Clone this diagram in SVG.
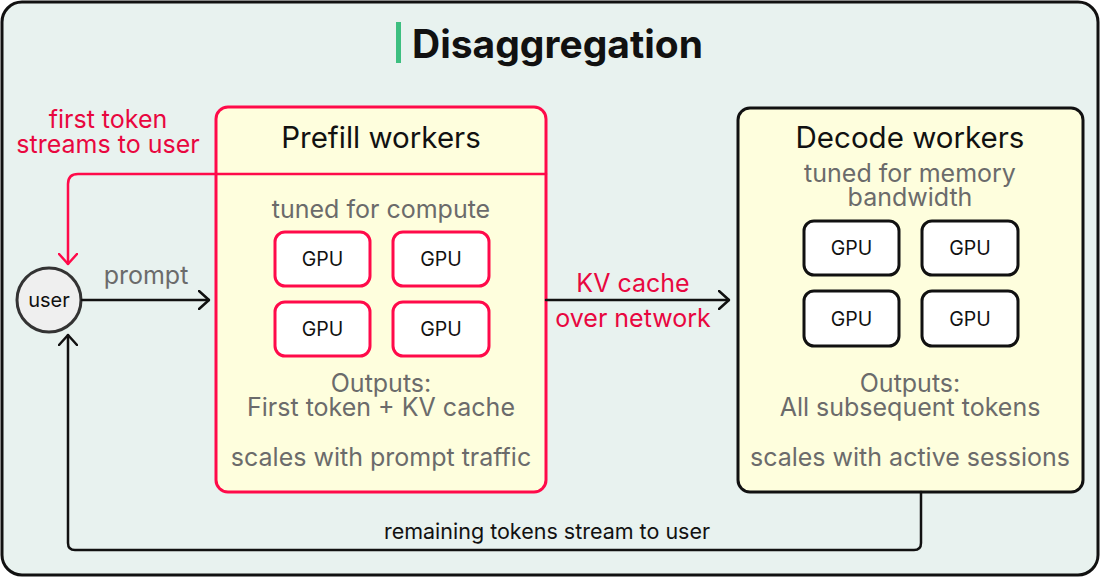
<svg xmlns="http://www.w3.org/2000/svg" width="1100" height="577" viewBox="0 0 1100 577">
<defs>
<style>
text{font-family:Inter,"Noto Sans","Liberation Sans",sans-serif;text-anchor:middle}
.t{font-size:29.5px;fill:#111}
.g{font-size:25px;fill:#6b6b6b}
.r{font-size:25px;fill:#e8073f}
.k{font-size:21.5px;fill:#111}
.gpu{font-size:19.5px;fill:#111}
.box{fill:#fefedd;stroke-width:3}
.pg{fill:#fff;stroke:#ff0a4a;stroke-width:3}
.dg{fill:#fff;stroke:#111;stroke-width:3}
.ln{fill:none;stroke-width:2.5;stroke-linecap:round;stroke-linejoin:round}
</style>
<marker id="ab" viewBox="0 0 12 20" refX="11" refY="10" markerWidth="12" markerHeight="20" markerUnits="userSpaceOnUse" orient="auto">
<path d="M1 1 L11 10 L1 19" fill="none" stroke="#111" stroke-width="2.5" stroke-linecap="round" stroke-linejoin="round"/>
</marker>
<marker id="ar" viewBox="0 0 12 20" refX="11" refY="10" markerWidth="12" markerHeight="20" markerUnits="userSpaceOnUse" orient="auto">
<path d="M1 1 L11 10 L1 19" fill="none" stroke="#ff0a4a" stroke-width="2.5" stroke-linecap="round" stroke-linejoin="round"/>
</marker>
</defs>
<rect x="2" y="2" width="1096" height="573" rx="20" fill="#e8f2ef" stroke="#111" stroke-width="3"/>
<g id="title">
<rect x="396" y="22" width="5" height="41" fill="#3dbf80"/>
<text x="557.5" y="58" style="font-size:39px;font-weight:700;fill:#111">Disaggregation</text>
</g>
<g id="prefill">
<rect class="box" x="216" y="107" width="330" height="385" rx="12" stroke="#ff0a4a"/>
<text class="t" x="381" y="148">Prefill workers</text>
<text class="g" x="381" y="218">tuned for compute</text>
<rect class="pg" x="275" y="232" width="95" height="54" rx="10"/>
<rect class="pg" x="393" y="232" width="96" height="54" rx="10"/>
<rect class="pg" x="275" y="302" width="95" height="54" rx="10"/>
<rect class="pg" x="393" y="302" width="96" height="54" rx="10"/>
<text class="gpu" x="322.5" y="265.5">GPU</text>
<text class="gpu" x="441" y="265.5">GPU</text>
<text class="gpu" x="322.5" y="335.5">GPU</text>
<text class="gpu" x="441" y="335.5">GPU</text>
<text class="g" x="381" y="392">Outputs:<tspan x="381" dy="24">First token + KV cache</tspan></text>
<text class="g" x="381" y="466">scales with prompt traffic</text>
</g>
<g id="decode">
<rect class="box" x="738" y="108" width="345" height="384" rx="12" stroke="#111"/>
<text class="t" x="910" y="148">Decode workers</text>
<text class="g" x="910" y="182">tuned for memory<tspan x="910" dy="24">bandwidth</tspan></text>
<rect class="dg" x="804" y="221" width="95" height="54" rx="10"/>
<rect class="dg" x="922" y="221" width="96" height="54" rx="10"/>
<rect class="dg" x="804" y="291" width="95" height="55" rx="10"/>
<rect class="dg" x="922" y="291" width="96" height="55" rx="10"/>
<text class="gpu" x="851.5" y="255">GPU</text>
<text class="gpu" x="970" y="255">GPU</text>
<text class="gpu" x="851.5" y="325.5">GPU</text>
<text class="gpu" x="970" y="325.5">GPU</text>
<text class="g" x="910" y="392">Outputs:<tspan x="910" dy="24">All subsequent tokens</tspan></text>
<text class="g" x="910" y="466">scales with active sessions</text>
</g>
<g id="user">
<circle cx="49" cy="300" r="32" fill="#efefef" stroke="#333" stroke-width="3"/>
<text x="49" y="307" style="font-size:20px;fill:#111">user</text>
</g>
<g id="connectors">
<path class="ln" d="M546 174 H78 Q68 174 68 184 V264" stroke="#ff0a4a" marker-end="url(#ar)"/>
<path class="ln" d="M82 300 H209" stroke="#111" marker-end="url(#ab)"/>
<path class="ln" d="M546 300 H729" stroke="#111" marker-end="url(#ab)"/>
<path class="ln" d="M921 492 V543 Q921 550 914 550 H75 Q68 550 68 543 V335" stroke="#111" marker-end="url(#ab)"/>
<text class="r" x="108" y="128">first token<tspan x="108" dy="25">streams to user</tspan></text>
<text class="g" x="146" y="284">prompt</text>
<text class="r" x="633" y="292">KV cache</text>
<text class="r" x="633" y="327">over network</text>
<text class="k" x="547" y="539">remaining tokens stream to user</text>
</g>
</svg>
